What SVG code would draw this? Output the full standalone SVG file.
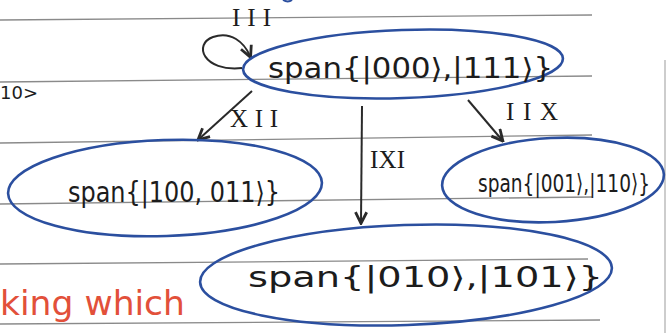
<svg xmlns="http://www.w3.org/2000/svg" width="668" height="333" viewBox="0 0 668 333">
<defs>
<style>
.rule{stroke:#8a8a8a;stroke-width:1.3;fill:none}
.node{fill:none;stroke:#2b4f9f;stroke-width:2.6}
.lbl{font-family:"DejaVu Sans","Liberation Sans",sans-serif;fill:#1c1c1c}
.op{font-family:"Liberation Serif","DejaVu Serif",serif;fill:#1c1c1c;font-size:25px}
.edge{stroke:#2a2a2a;stroke-width:2;fill:none}
</style>
<marker id="ah" viewBox="0 0 10 10" refX="8" refY="5" markerWidth="7" markerHeight="7" orient="auto-start-reverse">
<path d="M1 1 L9 5 L1 9" fill="none" stroke="#2a2a2a" stroke-width="2"/>
</marker>
</defs>
<rect width="668" height="333" fill="#ffffff"/>
<g id="paper">
<line class="rule" x1="0" y1="20" x2="592" y2="15"/>
<line class="rule" x1="0" y1="82" x2="592" y2="76"/>
<line class="rule" x1="0" y1="143" x2="592" y2="135"/>
<line class="rule" x1="0" y1="204" x2="592" y2="197"/>
<line class="rule" x1="0" y1="264" x2="588" y2="259"/>
<line class="rule" x1="0" y1="324" x2="600" y2="320"/>
<line x1="665" y1="60" x2="665" y2="333" stroke="#bdbdbd" stroke-width="1.5"/>
<text class="lbl" x="0" y="99" font-size="18">10&gt;</text>
<text x="0" y="315" font-family="DejaVu Sans,sans-serif" font-size="34" fill="#e2503a" textLength="185" lengthAdjust="spacingAndGlyphs">king which</text>
<path d="M283 0 Q288 3 292 0" stroke="#2b4f9f" stroke-width="2" fill="none"/>
</g>
<g id="connectors">
<path class="edge" d="M242 68 C203 72 193 44 213 37 C231 31 244 42 250 56" marker-end="url(#ah)"/>
<text class="op" x="232" y="26" textLength="39" lengthAdjust="spacing">III</text>
<path class="edge" d="M252 91 L199 139" marker-end="url(#ah)"/>
<text class="op" x="230" y="127" textLength="48" lengthAdjust="spacing">XII</text>
<path class="edge" d="M362 106 L361 222" marker-end="url(#ah)"/>
<text class="op" x="370" y="168" textLength="35" lengthAdjust="spacing">IXI</text>
<path class="edge" d="M468 100 L502 140" marker-end="url(#ah)"/>
<text class="op" x="506" y="120" textLength="52" lengthAdjust="spacing">IIX</text>
</g>
<g id="n_top">
<ellipse class="node" cx="403" cy="64" rx="160" ry="34" transform="rotate(-2 403 64)"/>
<text class="lbl" x="268" y="78" font-size="28" textLength="285" lengthAdjust="spacingAndGlyphs">span{|000⟩,|111⟩}</text>
</g>
<g id="n_left">
<ellipse class="node" cx="165" cy="188" rx="157" ry="48" transform="rotate(-2 165 188)"/>
<text class="lbl" x="68" y="202" font-size="28" textLength="212" lengthAdjust="spacingAndGlyphs">span{|100, 011⟩}</text>
</g>
<g id="n_right">
<ellipse class="node" cx="553" cy="180" rx="111" ry="42" transform="rotate(-3 553 180)"/>
<text class="lbl" transform="translate(478 192) scale(1 1.4)" x="0" y="0" font-size="18" textLength="172" lengthAdjust="spacingAndGlyphs">span{|001⟩,|110⟩}</text>
</g>
<g id="n_bottom">
<ellipse class="node" cx="406" cy="275" rx="206" ry="50" transform="rotate(-2 406 275)"/>
<text class="lbl" x="248" y="287" font-size="28" textLength="355" lengthAdjust="spacingAndGlyphs">span{|010⟩,|101⟩}</text>
</g>
</svg>
